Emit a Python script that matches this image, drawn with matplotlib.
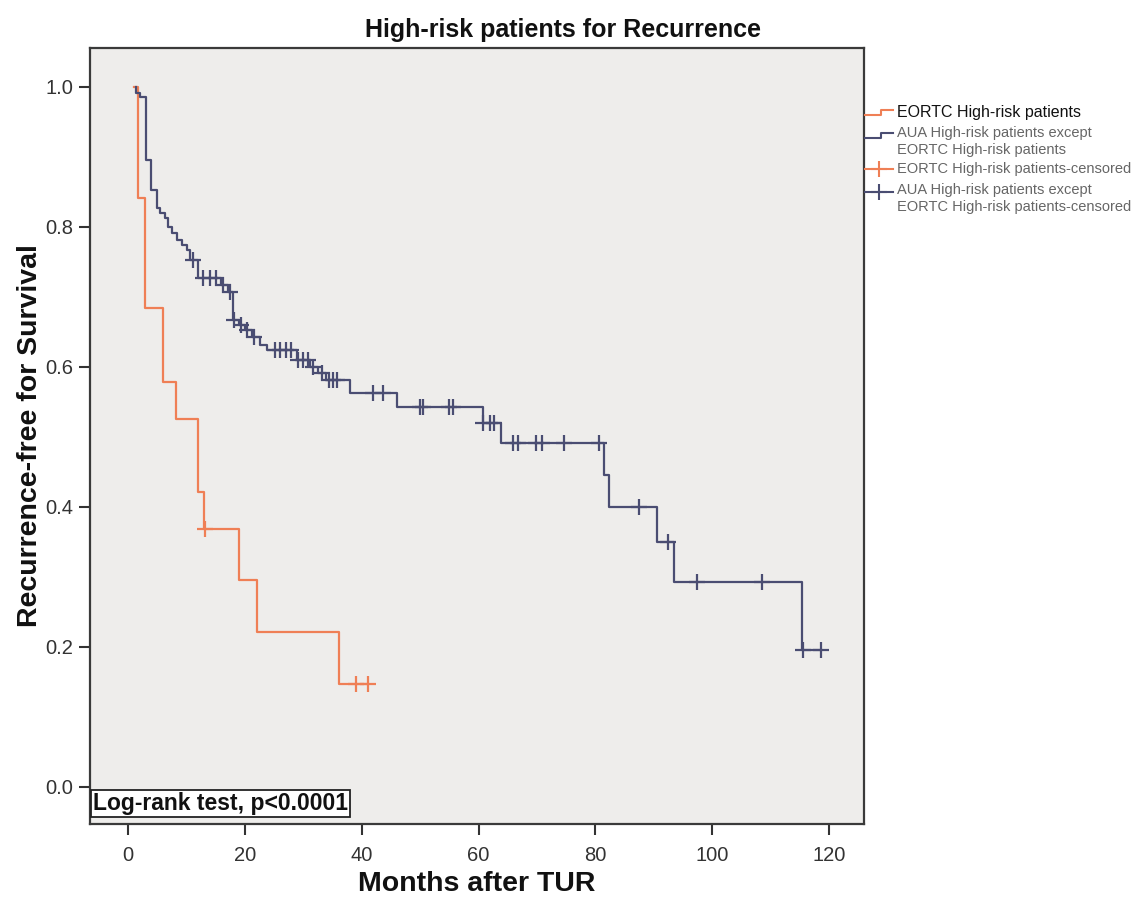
import numpy as np
import matplotlib
matplotlib.use("Agg")
import matplotlib.pyplot as plt
from matplotlib.lines import Line2D

plt.rcParams['font.family'] = ['Liberation Sans', 'DejaVu Sans']

# ---------------- data ----------------
title = "High-risk patients for Recurrence"
xlabel = "Months after TUR"
ylabel = "Recurrence-free for Survival"
annot = "Log-rank test, p<0.0001"

# EORTC high-risk group
eortc_start = 1.0
eortc_event_t = [1.7, 2.9, 6.0, 8.2, 12.0, 12.9, 19.0, 22.0, 36.0]
eortc_event_s = [0.842, 0.684, 0.579, 0.526, 0.421, 0.368, 0.295, 0.221, 0.147]
eortc_cens_t = [13.1, 39.0, 41.0]

# AUA high-risk except EORTC high-risk group
aua_start = 1.3
aua_event_t = [1.4, 2.0, 3.1, 3.9, 5.0, 5.5, 6.2, 6.8, 7.5, 8.4, 9.2, 10.1, 10.6,
               12.0, 15.8, 17.0, 18.0, 19.0, 20.0, 21.2, 22.6, 23.8, 28.9, 31.1,
               32.5, 33.8, 38.0, 46.0, 60.7, 63.9, 81.5, 82.4, 90.6, 93.5, 115.4]
aua_event_s = [0.992, 0.985, 0.896, 0.853, 0.827, 0.820, 0.813, 0.800, 0.791, 0.781,
               0.774, 0.767, 0.753, 0.727, 0.717, 0.707, 0.667, 0.660, 0.652, 0.643,
               0.632, 0.624, 0.610, 0.600, 0.591, 0.581, 0.563, 0.543, 0.520, 0.491,
               0.446, 0.400, 0.350, 0.293, 0.196]
aua_cens_t = [11.0, 12.8, 14.0, 15.0, 16.2, 17.4, 18.1, 19.3, 20.4, 21.6, 25.1, 26.0,
              27.0, 27.9, 29.1, 29.9, 30.8, 31.6, 33.2, 34.4, 35.0, 35.7, 41.9, 43.6,
              49.9, 50.4, 55.0, 55.6, 60.8, 61.9, 62.7, 65.8, 66.7, 69.9, 70.8, 74.7,
              80.7, 87.5, 92.5, 97.4, 108.5, 115.6, 118.6]

legend_labels = ["EORTC High-risk patients",
                 "AUA High-risk patients except\nEORTC High-risk patients",
                 "EORTC High-risk patients-censored",
                 "AUA High-risk patients except\nEORTC High-risk patients-censored"]

xticks = [0, 20, 40, 60, 80, 100, 120]
yticks = [0.0, 0.2, 0.4, 0.6, 0.8, 1.0]

# ---------------- style ----------------
ORANGE = "#EF7F55"
BLUE = "#4A4D72"
W, H = 1140, 910


def step_curve(start, ev_t, ev_s, cens_t):
    end = max(ev_t[-1], cens_t[-1]) if cens_t else ev_t[-1]
    t = np.concatenate([[start], ev_t, [end]])
    s = np.concatenate([[1.0], ev_s, [ev_s[-1]]])
    return t, s


def surv_at(ev_t, ev_s, tt):
    idx = np.searchsorted(np.asarray(ev_t), np.asarray(tt), side='right') - 1
    vals = np.where(idx >= 0, np.asarray(ev_s)[np.clip(idx, 0, None)], 1.0)
    return vals


fig = plt.figure(figsize=(W / 100, H / 100), dpi=100)
fig.patch.set_facecolor("white")
ax = fig.add_axes([90 / W, 1 - 824 / H, (864 - 90) / W, (824 - 47.7) / H])
ax.set_facecolor("#EEEDEB")

for (st, et, es, ct, col) in [(eortc_start, eortc_event_t, eortc_event_s, eortc_cens_t, ORANGE),
                              (aua_start, aua_event_t, aua_event_s, aua_cens_t, BLUE)]:
    t, s = step_curve(st, et, es, ct)
    ax.step(t, s, where='post', color=col, lw=1.6, zorder=3)
    ax.plot(ct, surv_at(et, es, ct), linestyle='none', marker='+', markersize=11,
            markeredgewidth=1.6, color=col, zorder=4)

ax.set_xlim(-6.56, 126.0)
ax.set_ylim(-0.053, 1.056)
ax.set_xticks(xticks)
ax.set_xticklabels([str(v) for v in xticks])
ax.set_yticks(yticks)
ax.set_yticklabels([f"{v:.1f}" for v in yticks])
ax.tick_params(axis='both', direction='out', length=8, width=1.5, color="#333333",
               labelsize=14.5, labelcolor="#333333", pad=4)
ax.tick_params(axis='x', pad=8)
for sp in ax.spines.values():
    sp.set_color("#3a3a3a")
    sp.set_linewidth(1.6)

ax.set_xlabel(xlabel, fontsize=20.5, fontweight='bold', labelpad=4, color="#111111")
ax.set_ylabel(ylabel, fontsize=20.5, fontweight='bold', labelpad=2, color="#111111")
fig.text(563 / W, 1 - 30 / H, title, ha='center', va='center', fontsize=18,
         fontweight='bold', color="#111111")

ax.text(0.004, -0.0235, annot, transform=ax.get_yaxis_transform(),
        fontsize=16.5, fontweight='bold', ha='left', va='center', color="#111111",
        bbox=dict(boxstyle='square,pad=0.1', fc='white', ec='#222222', lw=1.3), zorder=5)

# ---------------- legend (manual, outside right) ----------------
def fx(px):
    return px / W


def fy(py):
    return 1 - py / H


def step_handle(ymid, col):
    xs = [865, 881, 881, 893]
    ys = [ymid + 2.5, ymid + 2.5, ymid - 2.5, ymid - 2.5]
    fig.add_artist(Line2D([fx(v) for v in xs], [fy(v) for v in ys], color=col, lw=1.5,
                          transform=fig.transFigure))


def cens_handle(ymid, col):
    fig.add_artist(Line2D([fx(865), fx(893)], [fy(ymid), fy(ymid)], color=col, lw=1.5,
                          transform=fig.transFigure))
    fig.add_artist(Line2D([fx(879)], [fy(ymid)], color=col, marker='+', markersize=11,
                          markeredgewidth=1.5, linestyle='none', transform=fig.transFigure))


step_handle(112, ORANGE)
step_handle(135, BLUE)
cens_handle(169, ORANGE)
cens_handle(192, BLUE)

fig.text(fx(897), fy(112), legend_labels[0], fontsize=11.5, color="#111111", va='center', ha='left')
fig.text(fx(897), fy(141.5), legend_labels[1], fontsize=10.5, color="#666666", va='center', ha='left',
         linespacing=1.2)
fig.text(fx(897), fy(169), legend_labels[2], fontsize=10.5, color="#666666", va='center', ha='left')
fig.text(fx(897), fy(198.5), legend_labels[3], fontsize=10.5, color="#666666", va='center', ha='left',
         linespacing=1.2)

fig.savefig("out.png", dpi=100, facecolor=fig.get_facecolor())
